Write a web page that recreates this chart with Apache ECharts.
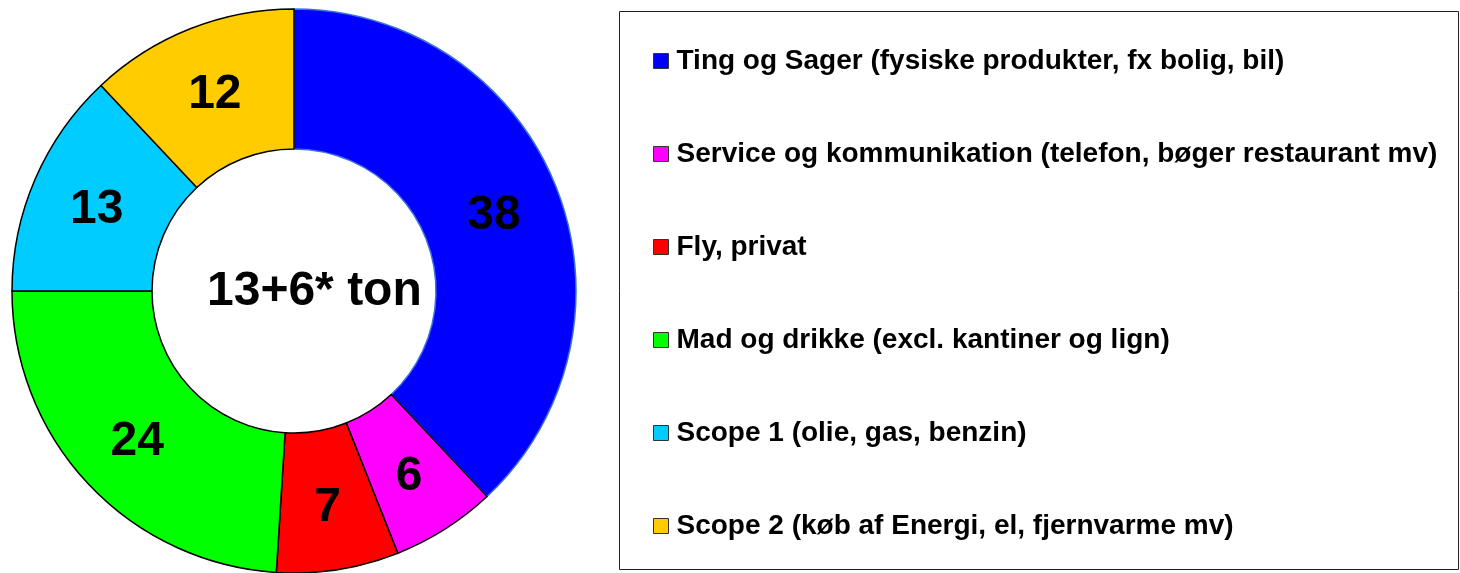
<!DOCTYPE html>
<html>
<head>
<meta charset="utf-8">
<script src="https://cdn.jsdelivr.net/npm/echarts@6/dist/echarts.min.js"></script>
<style>
  html, body { margin: 0; padding: 0; background: #fff; }
  #chart { width: 1460px; height: 573px; }
</style>
</head>
<body>
<div id="chart"></div>
<script>
// categories and values
const categories = [
  'Ting og Sager (fysiske produkter, fx bolig, bil)',
  'Service og kommunikation (telefon, bøger restaurant mv)',
  'Fly, privat',
  'Mad og drikke (excl. kantiner og lign)',
  'Scope 1 (olie, gas, benzin)',
  'Scope 2 (køb af Energi, el, fjernvarme mv)'
];
const values = [38, 6, 7, 24, 13, 12];
const colors = ['#0000ff', '#ff00ff', '#ff0000', '#00ff00', '#00ccff', '#ffcc00'];
const centerText = '13+6* ton';

const font = 'Liberation Sans, Arial, sans-serif';

const chart = echarts.init(document.getElementById('chart'));

chart.setOption({
  animation: false,
  backgroundColor: '#fff',
  color: colors,
  graphic: [
    {
      type: 'rect',
      shape: { x: 619.5, y: 11.5, width: 839, height: 558 },
      style: { fill: '#fff', stroke: '#222', lineWidth: 1 },
      z: 0
    },
    {
      type: 'text',
      left: 207,
      top: 268,
      style: {
        text: centerText,
        fontFamily: font,
        fontWeight: 'bold',
        fontSize: 48,
        fill: '#000'
      },
      z: 10
    }
  ],
  legend: {
    orient: 'vertical',
    left: 648,
    top: 41,
    icon: 'rect',
    itemWidth: 15,
    itemHeight: 15,
    itemGap: 63,
    selectedMode: false,
    itemStyle: { borderColor: '#333', borderWidth: 1 },
    textStyle: {
      fontFamily: font,
      fontWeight: 'bold',
      fontSize: 28,
      color: '#000',
      lineHeight: 30,
      padding: [0, 0, 0, 3]
    },
    data: categories
  },
  series: [{
    type: 'pie',
    center: [294, 291],
    radius: [142, 282],
    startAngle: 90,
    clockwise: true,
    silent: true,
    itemStyle: { borderColor: '#000', borderWidth: 1.5 },
    label: {
      position: 'inside',
      formatter: '{c}',
      fontFamily: font,
      fontWeight: 'bold',
      fontSize: 48,
      color: '#000',
      offset: [0, 4]
    },
    labelLine: { show: false },
    data: categories.map((name, i) => ({
      name: name,
      value: values[i],
      itemStyle: i === 0 ? { borderColor: '#3a70e0' } : undefined
    }))
  }]
});
</script>
</body>
</html>
